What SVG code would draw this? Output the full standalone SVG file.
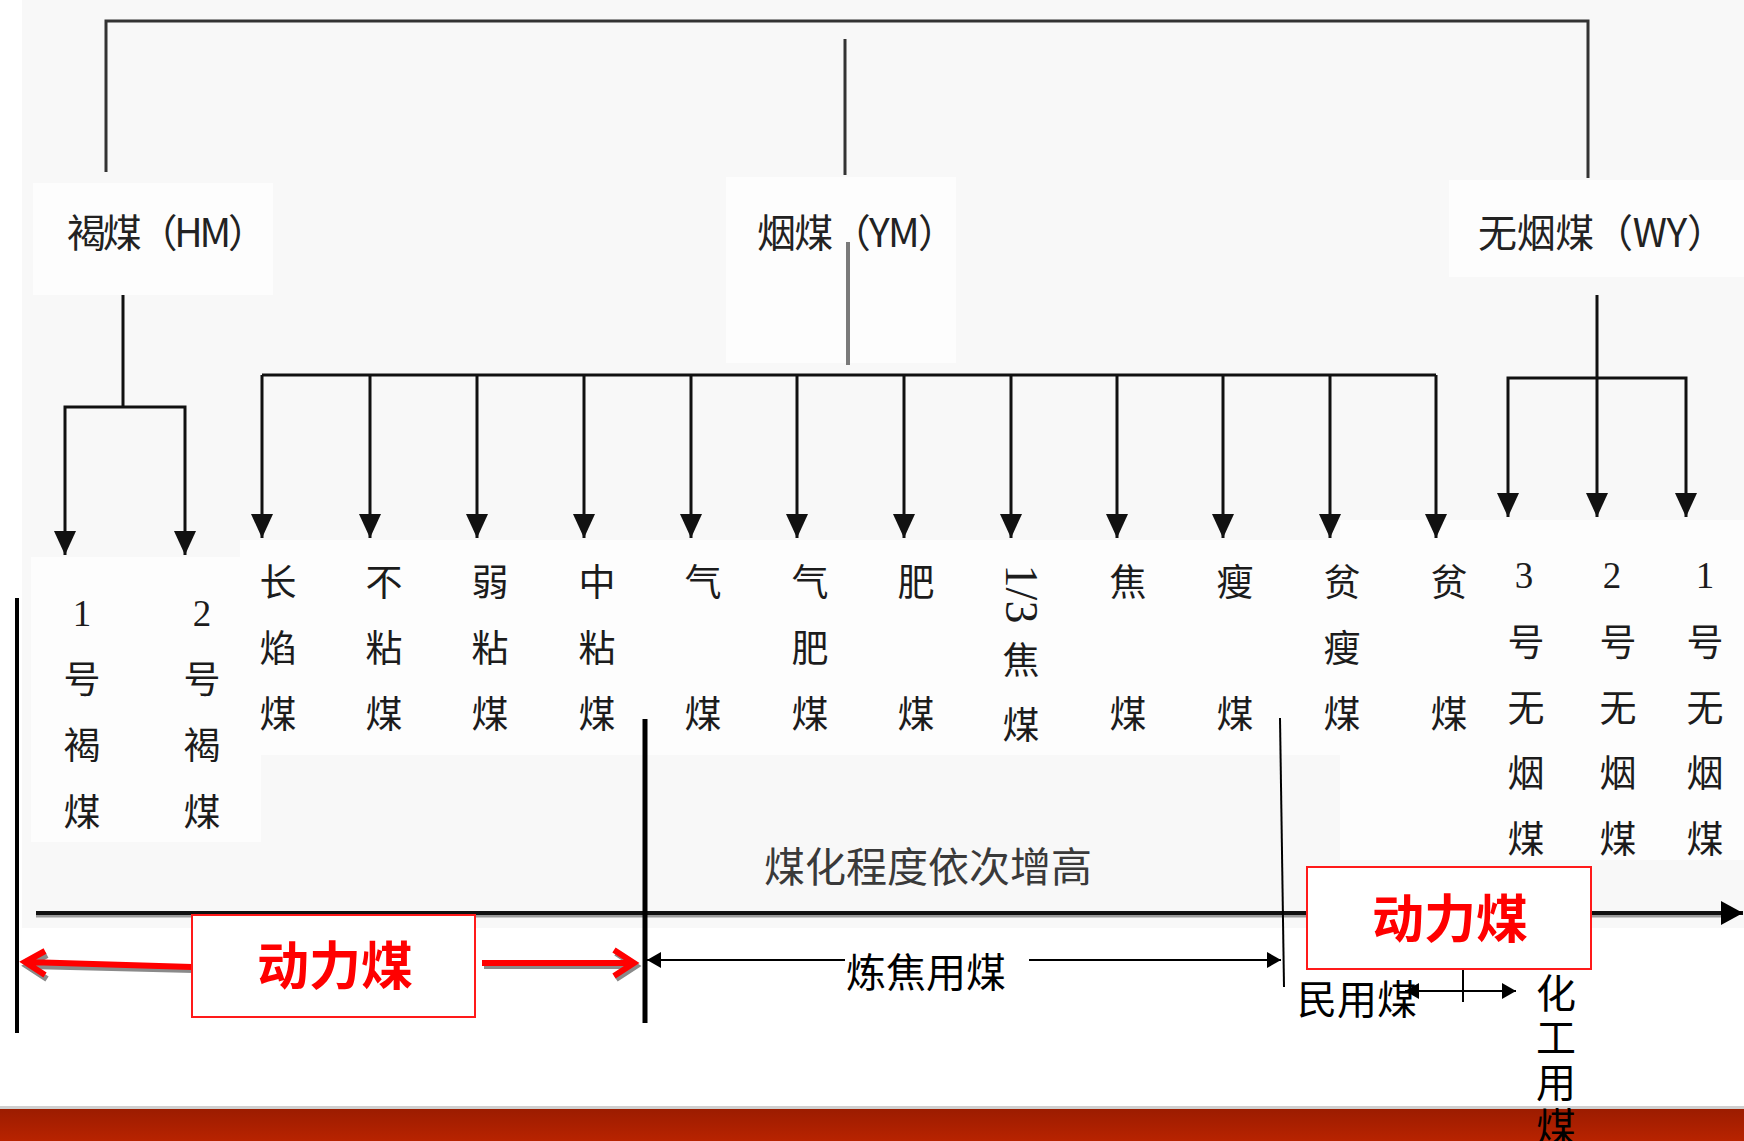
<svg xmlns="http://www.w3.org/2000/svg" width="1744" height="1141" viewBox="0 0 1744 1141">
<defs>
<style>
.cjk{font-family:"Noto Sans CJK SC","Noto Sans CJK JP",sans-serif}
.ser{font-family:"Liberation Serif","Noto Sans CJK SC",serif}
.lbl{font-size:37px;fill:#1c1c1c;text-anchor:middle;dominant-baseline:central}
.head{font-size:39px;fill:#222;dominant-baseline:central}
.frame{stroke:#333;stroke-width:3;fill:none}
.tree{stroke:#111;stroke-width:3;fill:none}
.red{font-size:52px;font-weight:bold;fill:#ff0000;text-anchor:middle;dominant-baseline:central}
.rbox{fill:#fff;stroke:#ff1a1a;stroke-width:2}
.blk{font-size:40px;fill:#000;text-anchor:middle;dominant-baseline:central}
.thin{stroke:#000;stroke-width:2;fill:none}
.rarrow{stroke:#ff0000;stroke-width:6;fill:none;stroke-linejoin:miter}
.rshadow{stroke:#8a8a8a;stroke-width:6;fill:none}
</style>
<marker id="tri" markerUnits="userSpaceOnUse" markerWidth="24" markerHeight="22" refX="24" refY="11" orient="auto"><path d="M0,0 L24,11 L0,22 z" fill="#111"/></marker>
<marker id="big" markerUnits="userSpaceOnUse" markerWidth="22" markerHeight="24" refX="22" refY="12" orient="auto"><path d="M0,0 L22,12 L0,24 z" fill="#000"/></marker>
<marker id="sm" markerUnits="userSpaceOnUse" markerWidth="14" markerHeight="16" refX="14" refY="8" orient="auto"><path d="M0,0 L14,8 L0,16 z" fill="#000"/></marker>
<linearGradient id="band" x1="0" y1="0" x2="0" y2="1">
<stop offset="0" stop-color="#9c1c00"/>
<stop offset="1" stop-color="#b82300"/>
</linearGradient>
</defs>

<g id="background">
<rect x="0" y="0" width="1744" height="1141" fill="#ffffff"/>
<rect x="22" y="0" width="1722" height="928" fill="#f8f8f8"/>
<rect x="33" y="183" width="240" height="112" fill="#fdfdfd"/>
<rect x="726" y="177" width="230" height="186" fill="#fdfdfd"/>
<rect x="1449" y="180" width="295" height="97" fill="#fdfdfd"/>
<rect x="31" y="557" width="230" height="285" fill="#fdfdfd"/>
<rect x="240" y="540" width="1100" height="215" fill="#fdfdfd"/>
<rect x="1340" y="520" width="404" height="340" fill="#fdfdfd"/>
<rect x="0" y="1106" width="1744" height="3" fill="#cfcfcf"/>
<rect x="0" y="1109" width="1744" height="32" fill="url(#band)"/>
</g>

<g id="connectors">
<path class="frame" d="M106,172 V21 H1588 V178"/>
<path class="frame" d="M845,39 V175"/>
<path d="M848,242 V365" stroke="#7a7a7a" stroke-width="4" fill="none"/>
<path class="tree" d="M123,295 V407"/>
<path class="tree" d="M123,407 H65 V555" marker-end="url(#tri)"/>
<path class="tree" d="M123,407 H185 V555" marker-end="url(#tri)"/>
<path class="tree" d="M262,375 H1436"/>
<line class="tree" x1="262" y1="375" x2="262" y2="538" marker-end="url(#tri)"/>
<line class="tree" x1="370" y1="375" x2="370" y2="538" marker-end="url(#tri)"/>
<line class="tree" x1="477" y1="375" x2="477" y2="538" marker-end="url(#tri)"/>
<line class="tree" x1="584" y1="375" x2="584" y2="538" marker-end="url(#tri)"/>
<line class="tree" x1="691" y1="375" x2="691" y2="538" marker-end="url(#tri)"/>
<line class="tree" x1="797" y1="375" x2="797" y2="538" marker-end="url(#tri)"/>
<line class="tree" x1="904" y1="375" x2="904" y2="538" marker-end="url(#tri)"/>
<line class="tree" x1="1011" y1="375" x2="1011" y2="538" marker-end="url(#tri)"/>
<line class="tree" x1="1117" y1="375" x2="1117" y2="538" marker-end="url(#tri)"/>
<line class="tree" x1="1223" y1="375" x2="1223" y2="538" marker-end="url(#tri)"/>
<line class="tree" x1="1330" y1="375" x2="1330" y2="538" marker-end="url(#tri)"/>
<line class="tree" x1="1436" y1="375" x2="1436" y2="538" marker-end="url(#tri)"/>
<path class="tree" d="M1597,295 V517" marker-end="url(#tri)"/>
<path class="tree" d="M1597,378 H1508 V517" marker-end="url(#tri)"/>
<path class="tree" d="M1597,378 H1686 V517" marker-end="url(#tri)"/>

<line x1="36" y1="916" x2="1722" y2="916" stroke="#9a9a9a" stroke-width="3"/>
<line x1="36" y1="913" x2="1743" y2="913" stroke="#111" stroke-width="4" marker-end="url(#big)"/>

<line x1="17" y1="598" x2="17" y2="1033" stroke="#000" stroke-width="4"/>
<line x1="645" y1="719" x2="645" y2="1023" stroke="#000" stroke-width="5"/>
<line x1="1280" y1="718" x2="1284" y2="987" stroke="#000" stroke-width="2"/>

<path class="rshadow" d="M194,970 L29,966 M47,955 L27,966 L47,979"/>
<path class="rarrow" d="M192,967 L27,962 M45,951 L25,962 L45,975"/>
<path class="rshadow" d="M484,966 L634,966 M616,953 L636,966 L616,979"/>
<path class="rarrow" d="M482,963 L632,963 M614,950 L634,963 L614,976"/>

<line class="thin" x1="845" y1="960" x2="647" y2="960" marker-end="url(#sm)"/>
<line class="thin" x1="1029" y1="960" x2="1281" y2="960" marker-end="url(#sm)"/>
<line class="thin" x1="1463" y1="969" x2="1463" y2="1002"/>
<line class="thin" x1="1463" y1="991" x2="1405" y2="991" marker-end="url(#sm)"/>
<line class="thin" x1="1463" y1="991" x2="1516" y2="991" marker-end="url(#sm)"/>
</g>

<g id="node-hm"><text class="cjk head" x="67" y="230" textLength="200" lengthAdjust="spacing">褐煤（HM）</text></g>
<g id="node-ym"><text class="cjk head" x="757" y="230" textLength="200" lengthAdjust="spacing">烟煤（YM）</text></g>
<g id="node-wy"><text class="cjk head" x="1478" y="230" textLength="248" lengthAdjust="spacing">无烟煤（WY）</text></g>

<g id="leaf-hm1"><text class="cjk lbl"><tspan class="ser" x="82" y="613">1</tspan><tspan x="82" y="677">号</tspan><tspan x="82" y="743">褐</tspan><tspan x="82" y="810">煤</tspan></text></g>
<g id="leaf-hm2"><text class="cjk lbl"><tspan class="ser" x="202" y="613">2</tspan><tspan x="202" y="677">号</tspan><tspan x="202" y="743">褐</tspan><tspan x="202" y="810">煤</tspan></text></g>

<g id="leaf-cyan"><text class="cjk lbl"><tspan x="278" y="580">长</tspan><tspan x="278" y="646">焰</tspan><tspan x="278" y="712">煤</tspan></text></g>
<g id="leaf-bnm"><text class="cjk lbl"><tspan x="384" y="580">不</tspan><tspan x="384" y="646">粘</tspan><tspan x="384" y="712">煤</tspan></text></g>
<g id="leaf-rnm"><text class="cjk lbl"><tspan x="490" y="580">弱</tspan><tspan x="490" y="646">粘</tspan><tspan x="490" y="712">煤</tspan></text></g>
<g id="leaf-znm"><text class="cjk lbl"><tspan x="597" y="580">中</tspan><tspan x="597" y="646">粘</tspan><tspan x="597" y="712">煤</tspan></text></g>
<g id="leaf-qm"><text class="cjk lbl"><tspan x="703" y="580">气</tspan><tspan x="703" y="712">煤</tspan></text></g>
<g id="leaf-qfm"><text class="cjk lbl"><tspan x="810" y="580">气</tspan><tspan x="810" y="646">肥</tspan><tspan x="810" y="712">煤</tspan></text></g>
<g id="leaf-fm"><text class="cjk lbl"><tspan x="916" y="580">肥</tspan><tspan x="916" y="712">煤</tspan></text></g>
<g id="leaf-13jm"><text class="ser lbl" style="font-size:46px" transform="translate(1021,594) rotate(90)">1/3</text><text class="cjk lbl"><tspan x="1021" y="658">焦</tspan><tspan x="1021" y="723">煤</tspan></text></g>
<g id="leaf-jm"><text class="cjk lbl"><tspan x="1128" y="580">焦</tspan><tspan x="1128" y="712">煤</tspan></text></g>
<g id="leaf-sm"><text class="cjk lbl"><tspan x="1235" y="580">瘦</tspan><tspan x="1235" y="712">煤</tspan></text></g>
<g id="leaf-psm"><text class="cjk lbl"><tspan x="1342" y="580">贫</tspan><tspan x="1342" y="646">瘦</tspan><tspan x="1342" y="712">煤</tspan></text></g>
<g id="leaf-pm"><text class="cjk lbl"><tspan x="1449" y="580">贫</tspan><tspan x="1449" y="712">煤</tspan></text></g>

<g id="leaf-wy3"><text class="cjk lbl"><tspan class="ser" x="1524" y="575">3</tspan><tspan x="1526" y="640">号</tspan><tspan x="1526" y="706">无</tspan><tspan x="1526" y="771">烟</tspan><tspan x="1526" y="837">煤</tspan></text></g>
<g id="leaf-wy2"><text class="cjk lbl"><tspan class="ser" x="1612" y="575">2</tspan><tspan x="1618" y="640">号</tspan><tspan x="1618" y="706">无</tspan><tspan x="1618" y="771">烟</tspan><tspan x="1618" y="837">煤</tspan></text></g>
<g id="leaf-wy1"><text class="cjk lbl"><tspan class="ser" x="1705" y="575">1</tspan><tspan x="1705" y="640">号</tspan><tspan x="1705" y="706">无</tspan><tspan x="1705" y="771">烟</tspan><tspan x="1705" y="837">煤</tspan></text></g>

<g id="axis-label"><text class="cjk" x="928" y="864" font-size="41" fill="#3a3a3a" text-anchor="middle" dominant-baseline="central">煤化程度依次增高</text></g>

<g id="box-power1"><rect class="rbox" x="192" y="915" width="283" height="102"/><text class="cjk red" x="335" y="962">动力煤</text></g>
<g id="box-power2"><rect class="rbox" x="1307" y="867" width="284" height="102"/><text class="cjk red" x="1450" y="915">动力煤</text></g>

<g id="label-coking"><rect x="848" y="945" width="178" height="40" fill="#fff"/><text class="cjk blk" x="926" y="970" font-size="42">炼焦用煤</text></g>
<g id="label-civil"><text class="cjk blk" x="1357" y="997" font-size="36">民用煤</text></g>
<g id="label-chem"><text class="cjk blk" font-size="34"><tspan x="1556" y="991">化</tspan><tspan x="1556" y="1035">工</tspan><tspan x="1556" y="1080">用</tspan><tspan x="1556" y="1125">煤</tspan></text></g>
</svg>
